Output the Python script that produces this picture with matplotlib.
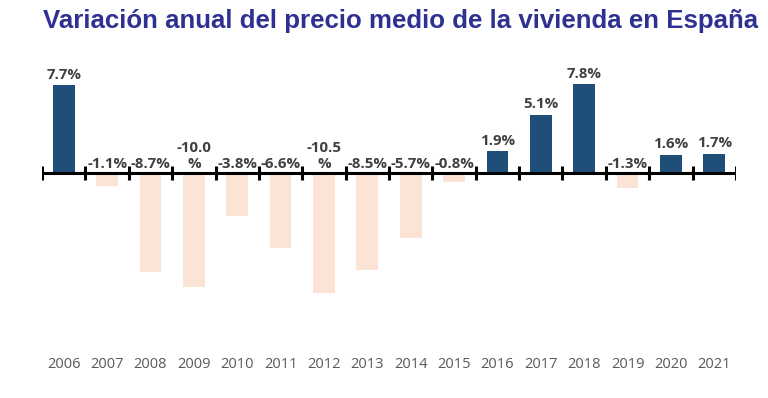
import numpy as np
import matplotlib.pyplot as plt
from matplotlib.transforms import blended_transform_factory

years = ['2006', '2007', '2008', '2009', '2010', '2011', '2012', '2013',
         '2014', '2015', '2016', '2017', '2018', '2019', '2020', '2021']
values = [7.7, -1.1, -8.7, -10.0, -3.8, -6.6, -10.5, -8.5,
          -5.7, -0.8, 1.9, 5.1, 7.8, -1.3, 1.6, 1.7]
labels = ['7.7%', '-1.1%', '-8.7%', '-10.0\n%', '-3.8%', '-6.6%', '-10.5\n%', '-8.5%',
          '-5.7%', '-0.8%', '1.9%', '5.1%', '7.8%', '-1.3%', '1.6%', '1.7%']

pos_color = '#1F4E79'
neg_color = '#FBE4D5'

fig = plt.figure(figsize=(7.68, 3.98), dpi=100)
ax = fig.add_axes([0.0547, 0.164, 0.9036, 0.659])

x = np.arange(len(years))
colors = [pos_color if v >= 0 else neg_color for v in values]
ax.bar(x, values, width=0.5, color=colors, zorder=1)

# zero line with crossing ticks at category boundaries
ax.axhline(0, color='black', lw=2.2, zorder=3)
ax.vlines(np.arange(-0.5, len(years)), -0.65, 0.6, color='black', lw=2.2, zorder=3)

for xi, v, lab in zip(x, values, labels):
    y = v + 0.3 if v >= 0 else 0.2
    ax.text(xi, y, lab, ha='center', va='bottom', fontsize=10.8, fontweight='bold',
            color='#404040', family='Open Sans', linespacing=1.2, zorder=4)

trans = blended_transform_factory(ax.transData, fig.transFigure)
for xi, yr in zip(x, years):
    ax.text(xi, 1 - 365 / 398, yr, ha='center', va='center', fontsize=10.5,
            color='#595959', family='Open Sans', transform=trans)

ax.set_xlim(-0.5, len(years) - 0.5)
ax.set_ylim(-14, 9)
ax.axis('off')

fig.text(0.522, 0.948, 'Variación anual del precio medio de la vivienda en España',
         ha='center', va='center', fontsize=18.6, fontweight='bold',
         color='#2E3192', family='Liberation Sans')

fig.savefig('out.png', dpi=100)
